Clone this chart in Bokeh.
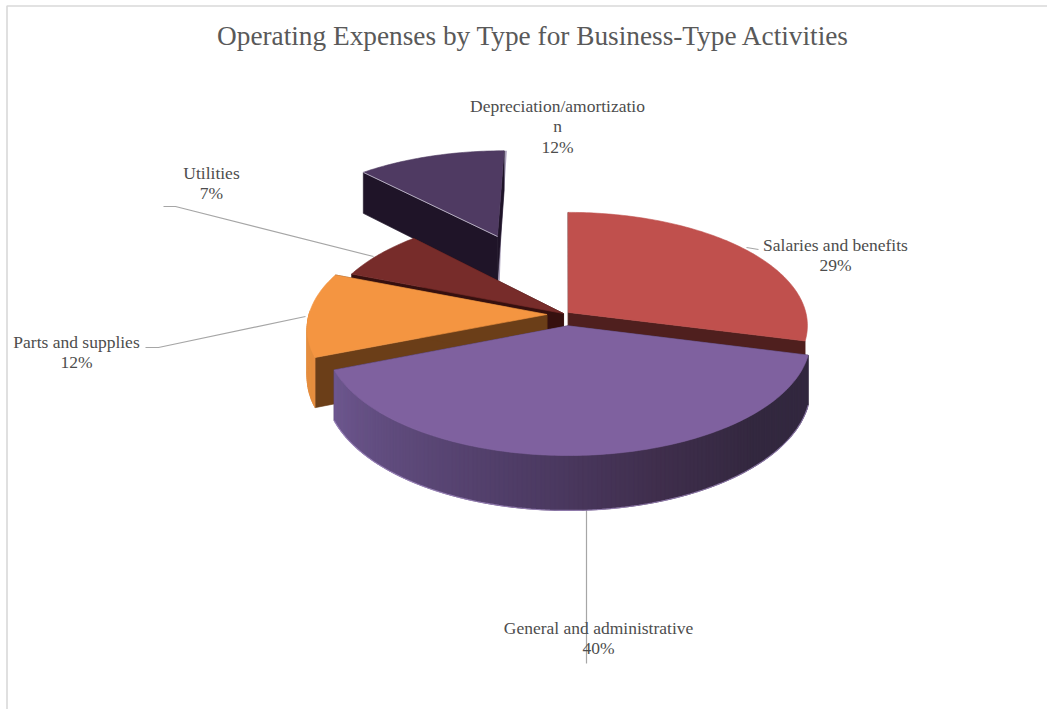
import numpy as np
from bokeh.core.properties import value
from bokeh.embed import file_html
from bokeh.models import ColumnDataSource, Range1d
from bokeh.plotting import figure
from bokeh.resources import INLINE

# Operating expenses by type, in percent of the total
categories = ["Salaries and benefits", "General and administrative",
              "Parts and supplies", "Utilities", "Depreciation/amortization"]
shares = [29, 40, 12, 7, 12]

title_text = "Operating Expenses by Type for Business-Type Activities"
label_lines = [["Salaries and benefits", "29%"],
               ["General and administrative", "40%"],
               ["Parts and supplies", "12%"],
               ["Utilities", "7%"],
               ["Depreciation/amortizatio", "n", "12%"]]

# Slice styling
top_colors = ["#C0504D", "#7F619F", "#F49541", "#772C2A", "#4F3A62"]
cut_colors = ["#4F1F1E", "#33283F", "#6B3E18", "#36100F", "#1F1428"]
wall_colors = [None, "#33283F", "#E58E40", None, None]
explode = [0.02, 0.10, 0.082, 0.015, 0.82]
explode_turn = [-30, 0, 0, 0, -1]
cut_depth = [0.4, 1.0, 1.0, 1.0, 1.0]
draw_order = [4, 3, 0, 2, 1]

# Perspective camera for the tilted disc, in page pixels
CX, CY = 566.0, 314.0
RX, RY = 238.0, 112.0
DEPTH = 48.0
PERSP = 0.115


def project(u, v, h=0.0):
    u, v = np.asarray(u, float), np.asarray(v, float)
    s = 1.0 + PERSP * v
    return CX + RX * u / s, CY + (-RY * v + DEPTH * h) / s


def hex_rgb(c):
    return np.array([int(c[i:i + 2], 16) for i in (1, 3, 5)], float)


def general_wall_shade(deg):
    # The front wall of the largest slice darkens from left to right
    stops = [104, 135, 160, 185, 215, 249]
    cols = [hex_rgb(c) for c in ("#33283F", "#33283F", "#3F2E4C", "#4C3A62", "#5C4878", "#6E5890")]
    rgb = [np.interp(deg, stops, [c[i] for c in cols]) for i in range(3)]
    return "#%02x%02x%02x" % tuple(int(round(x)) for x in rgb)


xs, ys, fills = [], [], []


def add(x, y, color):
    xs.append(list(x))
    ys.append(list(y))
    fills.append(color)


total = sum(shares)
edges = np.concatenate([[0.0], np.cumsum(shares)]) / total * 360.0
fringe_x, fringe_y = [], []
edge_x, edge_y = [], []
sliver_x, sliver_y = [], []

for i in draw_order:
    a0, a1 = edges[i], edges[i + 1]
    mid = np.radians((a0 + a1) / 2 + explode_turn[i])
    ou, ov = explode[i] * np.sin(mid), explode[i] * np.cos(mid)
    th = np.radians(np.linspace(a0, a1, int(a1 - a0) + 2))
    u, v = ou + np.sin(th), ov + np.cos(th)

    # Radial cut faces, hidden parts are covered by the top drawn afterwards
    for end in (0, -1):
        h = cut_depth[i]
        fx, fy = zip(*[project(a, b, c) for a, b, c in
                       zip([ou, u[end], u[end], ou], [ov, v[end], v[end], ov], [0, 0, h, h])])
        add(fx, fy, cut_colors[i])

    # Outer wall, in bands that overlap their neighbour so no seams show
    if wall_colors[i] is not None:
        for j in range(len(th) - 1):
            deg = np.degrees((th[j] + th[j + 1]) / 2)
            if np.cos(np.radians(deg)) > 0.02:
                continue
            k = min(j + 3, len(th))
            tx0, ty0 = project(u[j:k], v[j:k], 0)
            bx0, by0 = project(u[j:k], v[j:k], 1)
            color = general_wall_shade(deg) if i == 1 else wall_colors[i]
            add(list(tx0) + list(bx0[::-1]), list(ty0) + list(by0[::-1]), color)

    if i == 1:
        fringe_x, fringe_y = project(u, v, 1)
    if i == 4:
        # Highlight along the front edge and the grazing cut face on the right
        ex, ey = project([u[0], ou], [v[0], ov], 0)
        edge_x, edge_y = list(ex), list(ey)
        sx, sy = project([u[-1], ou], [v[-1], ov], 0)
        _, by = project([ou], [ov], 1)
        sliver_x = [sx[0] + 1.5, sx[1] + 2.5, sx[1] + 1.0]
        sliver_y = [sy[0], sy[1], by[0]]

    # Top surface
    tx, ty = project(np.r_[ou, u], np.r_[ov, v], 0)
    add(tx, ty, top_colors[i])

p = figure(width=1047, height=709, output_backend="svg", toolbar_location=None,
           x_range=Range1d(0, 1047), y_range=Range1d(709, 0),
           x_axis_type=None, y_axis_type=None, min_border=0,
           outline_line_color=None, background_fill_color="white")
p.grid.visible = False

# Thin chart frame, visible along the top and left edges
p.line([1047, 6.5, 6.5], [5.5, 5.5, 709], line_color="#D9D9D9", line_width=1.6)

# Leader lines run beneath the slices
leaders_x = [[746, 758], [586, 586], [305, 158, 145], [373, 175, 163]]
leaders_y = [[247, 249], [505, 663], [316, 347, 347], [256, 206, 206]]
p.multi_line(leaders_x, leaders_y, line_color="#A6A6A6", line_width=1.2)

p.line(sliver_x, sliver_y, line_color="#8D80A3", line_width=2.5, line_alpha=0.75)
p.patches("xs", "ys", source=ColumnDataSource(dict(xs=xs, ys=ys, color=fills)),
          fill_color="color", line_color="color", line_width=0.6)
p.line(list(fringe_x), list(fringe_y), line_color="#A892C8", line_width=1.2, line_alpha=0.7)
p.line(edge_x, edge_y, line_color="#B5AEC0", line_width=1.0)

# Data labels, one row per text line
anchors = [(835, 244), (598, 627), (76, 341), (211, 172), (557, 105)]
line_step = 20.5
lx, ly, lt = [], [], []
for (ax, ay), lines in zip(anchors, label_lines):
    for n, line in enumerate(lines):
        lx.append(ax)
        ly.append(ay + n * line_step)
        lt.append(line)
p.text(lx, ly, text=lt, text_font=value("Liberation Serif"), text_font_size="17.5px",
       text_color="#4D4D4D", text_align="center", text_baseline="middle")

p.text([533], [35], text=[title_text], text_font=value("Liberation Serif"),
       text_font_size="27.3px", text_color="#595959", text_align="center", text_baseline="middle")

open("out.html", "w").write(file_html(p, INLINE))
